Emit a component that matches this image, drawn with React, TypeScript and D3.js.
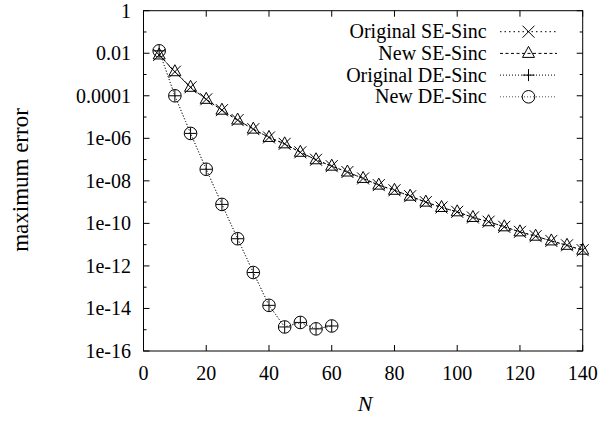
import * as d3 from "d3";

// N values
const seN = [5, 10, 15, 20, 25, 30, 35, 40, 45, 50, 55, 60, 65, 70, 75, 80, 85, 90, 95, 100, 105, 110, 115, 120, 125, 130, 135, 140];
const deN = [5, 10, 15, 20, 25, 30, 35, 40, 45, 50, 55, 60];

// maximum error
const origSE = [8.3e-3, 1.35e-3, 2.5e-4, 6.8e-5, 2.1e-5, 7.2e-6, 2.7e-6, 1.1e-6, 5.5e-7, 2.2e-7, 9.8e-8, 4.9e-8, 2.6e-8, 1.3e-8, 6.3e-9, 3.6e-9, 1.9e-9, 1.0e-9, 5.6e-10, 3.5e-10, 1.9e-10, 1.2e-10, 6.9e-11, 4.0e-11, 2.5e-11, 1.5e-11, 9.3e-12, 5.5e-12];
const newSE = [8.3e-3, 1.35e-3, 2.5e-4, 6.8e-5, 2.1e-5, 7.2e-6, 2.7e-6, 1.1e-6, 5.5e-7, 2.2e-7, 9.8e-8, 4.9e-8, 2.6e-8, 1.3e-8, 6.3e-9, 3.6e-9, 1.9e-9, 1.0e-9, 5.6e-10, 3.5e-10, 1.9e-10, 1.2e-10, 6.9e-11, 4.0e-11, 2.5e-11, 1.5e-11, 9.3e-12, 5.5e-12];
const origDE = [1.3e-2, 1.0e-4, 1.7e-6, 3.5e-8, 7.8e-10, 1.9e-11, 4.9e-13, 1.4e-14, 1.35e-15, 2.2e-15, 1.1e-15, 1.5e-15];
const newDE = [1.3e-2, 1.0e-4, 1.7e-6, 3.5e-8, 7.8e-10, 1.9e-11, 4.9e-13, 1.4e-14, 1.35e-15, 2.2e-15, 1.1e-15, 1.5e-15];

const xTicks = [0, 20, 40, 60, 80, 100, 120, 140];
const yTicks = [1, 1e-2, 1e-4, 1e-6, 1e-8, 1e-10, 1e-12, 1e-14, 1e-16];
const yTickLabels = ["1", "0.01", "0.0001", "1e-06", "1e-08", "1e-10", "1e-12", "1e-14", "1e-16"];
const yMinor = [1e-1, 1e-3, 1e-5, 1e-7, 1e-9, 1e-11, 1e-13, 1e-15];

const width = 616;
const height = 423;
const left = 143.5;
const right = 582.7;
const top = 10.7;
const bottom = 351;
const font = "Liberation Serif, Times New Roman, Times, DejaVu Serif, serif";

type Marker = "x" | "tri" | "plus" | "circle";

function Mark({ kind, x, y }: { kind: Marker; x: number; y: number }) {
  const s = 6;
  if (kind === "x")
    return <path d={`M${x - s},${y - s}L${x + s},${y + s}M${x - s},${y + s}L${x + s},${y - s}`} stroke="black" fill="none" />;
  if (kind === "plus")
    return <path d={`M${x - s},${y}L${x + s},${y}M${x},${y - s}L${x},${y + s}`} stroke="black" fill="none" />;
  if (kind === "tri")
    return <path d={`M${x - s},${y + 4}L${x + s},${y + 4}L${x},${y - 7}Z`} stroke="black" fill="none" />;
  return <circle cx={x} cy={y} r={6.3} stroke="black" fill="none" />;
}

export default function App() {
  const xScale = d3.scaleLinear().domain([0, 140]).range([left, right]);
  const yScale = d3.scaleLog().domain([1e-16, 1]).range([bottom, top]);

  const series = [
    { name: "Original SE-Sinc", n: seN, v: origSE, marker: "x" as Marker, dash: "1.5,3", color: "black" },
    { name: "New SE-Sinc", n: seN, v: newSE, marker: "tri" as Marker, dash: "3,2.5", color: "black" },
    { name: "Original DE-Sinc", n: deN, v: origDE, marker: "plus" as Marker, dash: "1,2", color: "black" },
    { name: "New DE-Sinc", n: deN, v: newDE, marker: "circle" as Marker, dash: "1,2", color: "#555" },
  ];

  const line = d3
    .line<[number, number]>()
    .x((d) => xScale(d[0]))
    .y((d) => yScale(d[1]));

  return (
    <svg width={width} height={height} style={{ position: "absolute", left: 0, top: 0, background: "white", fontFamily: font }}>
      <g fontSize={20} fill="black" style={{ fontFamily: font }}>
        {/* ticks */}
        {xTicks.map((t) => (
          <g key={"x" + t}>
            <line x1={xScale(t)} x2={xScale(t)} y1={bottom} y2={bottom - 6} stroke="black" />
            <line x1={xScale(t)} x2={xScale(t)} y1={top} y2={top + 6} stroke="black" />
            <text x={xScale(t)} y={380} textAnchor="middle">{t}</text>
          </g>
        ))}
        {yTicks.map((t, i) => (
          <g key={"y" + i}>
            <line x1={left} x2={left + 6} y1={yScale(t)} y2={yScale(t)} stroke="black" />
            <line x1={right} x2={right - 6} y1={yScale(t)} y2={yScale(t)} stroke="black" />
            <text x={131} y={yScale(t) + 7} textAnchor="end">{yTickLabels[i]}</text>
          </g>
        ))}
        {yMinor.map((t, i) => (
          <g key={"m" + i}>
            <line x1={left} x2={left + 3} y1={yScale(t)} y2={yScale(t)} stroke="black" />
            <line x1={right} x2={right - 3} y1={yScale(t)} y2={yScale(t)} stroke="black" />
          </g>
        ))}

        {/* data */}
        {series.map((s) => (
          <g key={s.name}>
            <path
              d={line(s.n.map((n, i) => [n, s.v[i]] as [number, number])) || ""}
              fill="none"
              stroke={s.color}
              strokeDasharray={s.dash}
            />
            {s.n.map((n, i) => (
              <Mark key={i} kind={s.marker} x={xScale(n)} y={yScale(s.v[i])} />
            ))}
          </g>
        ))}

        {/* legend */}
        {series.map((s, i) => {
          const ly = 31.7 + i * 21.7;
          return (
            <g key={"l" + s.name}>
              <text x={486.7} y={ly + 6.5} textAnchor="end">{s.name}</text>
              <line x1={500} x2={557} y1={ly} y2={ly} stroke={s.color} strokeDasharray={s.dash} />
              <Mark kind={s.marker} x={528.5} y={ly} />
            </g>
          );
        })}

        <rect x={left} y={top} width={right - left} height={bottom - top} fill="none" stroke="black" />

        <text transform={`translate(28,180) rotate(-90)`} textAnchor="middle" fontSize={23}>maximum error</text>
        <text x={365} y={411} textAnchor="middle" fontStyle="italic" fontSize={22}>N</text>
      </g>
    </svg>
  );
}
